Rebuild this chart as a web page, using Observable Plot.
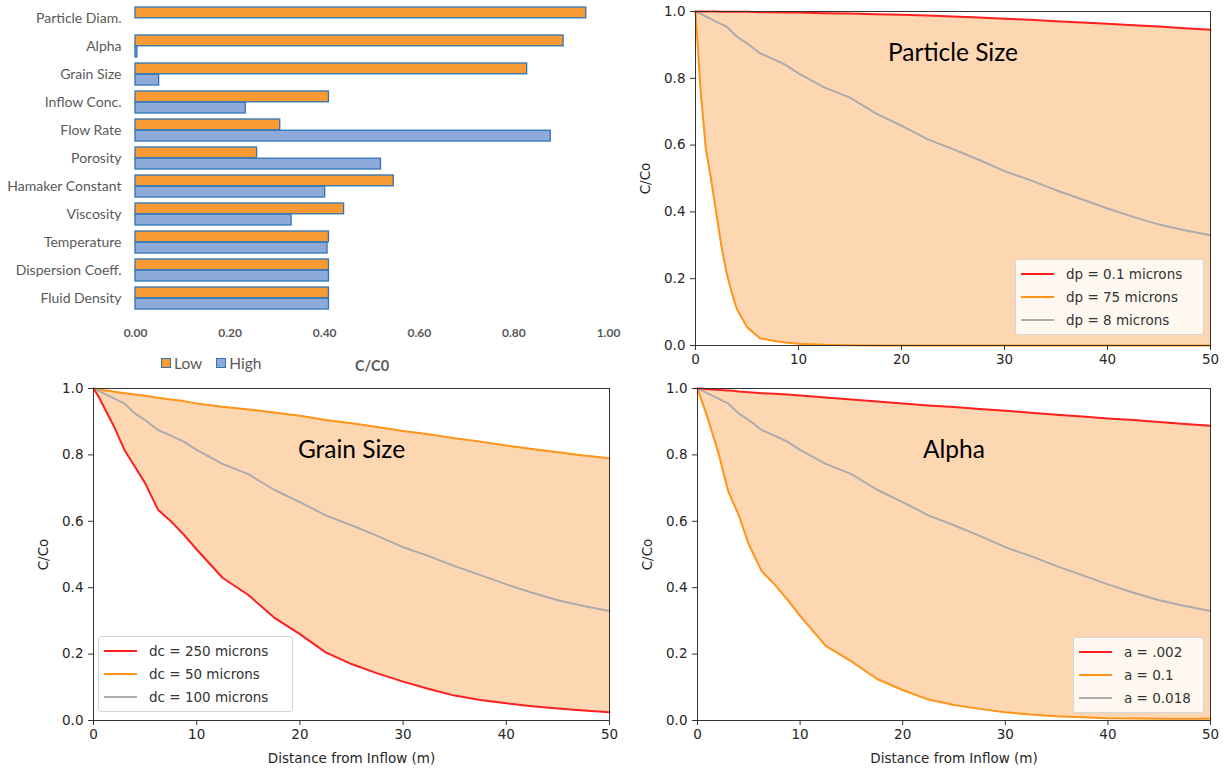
<!DOCTYPE html>
<html>
<head>
<meta charset="utf-8">
<script src="https://cdn.jsdelivr.net/npm/d3@7"></script>
<script src="https://cdn.jsdelivr.net/npm/@observablehq/plot@0.6"></script>
<style>
  html, body { margin: 0; padding: 0; background: #fff; }
  #root { position: relative; width: 1225px; height: 771px; overflow: hidden; }
  .panel { position: absolute; }
  .panel svg { overflow: visible; }
  .lg { position: absolute; box-sizing: border-box; background: rgba(255,255,255,0.82);
        border: 1px solid #d6d6d6; border-radius: 3px; font-family: "DejaVu Sans", sans-serif;
        font-size: 13.5px; color: #333; padding: 2px 6px 3px 5px; }
  .lg .row { display: flex; align-items: center; height: 23px; }
  .lg .ln { width: 33px; height: 2px; margin-right: 12px; }
  .barlg { position: absolute; font-family: Lato, sans-serif; font-size: 15.5px; color: #595959;
           display: flex; align-items: center; }
  .barlg .sw { width: 8px; height: 8px; border: 1.3px solid #2E75B6; margin: 0 3px 0 0; }
</style>
</head>
<body>
<div id="root"></div>
<script>
// ---------- Data: sensitivity bar chart ----------
const categories = ["Particle Diam.", "Alpha", "Grain Size", "Inflow Conc.", "Flow Rate", "Porosity",
  "Hamaker Constant", "Viscosity", "Temperature", "Dispersion Coeff.", "Fluid Density"];
const lowValues  = [0.953, 0.905, 0.828, 0.409, 0.306, 0.257, 0.546, 0.441, 0.409, 0.409, 0.409];
const highValues = [0.0,   0.004, 0.050, 0.233, 0.878, 0.519, 0.401, 0.330, 0.406, 0.409, 0.409];
const barTicks = [0, 0.2, 0.4, 0.6, 0.8, 1.0];
const seriesNames = ["Low", "High"];

// ---------- Data: breakthrough curves ----------
const distance = [0, 0.5, 1, 1.5, 2, 2.5, 3, 3.5, 4, 5, 6.25, 7.5, 8.75, 10, 12.5, 15, 17.5, 20,
  22.5, 25, 27.5, 30, 32.5, 35, 37.5, 40, 42.5, 45, 47.5, 50];
// base case (dp = 8 microns, dc = 100 microns, a = 0.018)
const baseCase = [1.0, 0.993, 0.985, 0.978, 0.97, 0.962, 0.955, 0.94, 0.925, 0.905, 0.875, 0.858, 0.84,
  0.815, 0.773, 0.742, 0.695, 0.658, 0.618, 0.588, 0.556, 0.522, 0.495, 0.465, 0.438, 0.41, 0.385, 0.362, 0.345, 0.33];
// Particle size
const dpSmall = [1, 1, 1, 1, 1, 0.999, 0.999, 0.999, 0.999, 0.999, 0.998, 0.998, 0.997, 0.997, 0.995,
  0.994, 0.992, 0.99, 0.988, 0.985, 0.982, 0.978, 0.975, 0.971, 0.967, 0.963, 0.959, 0.955, 0.95, 0.945];
const dpLarge = [1, 0.76, 0.59, 0.5, 0.4, 0.3, 0.22, 0.16, 0.11, 0.055, 0.022, 0.014, 0.009, 0.005, 0.002,
  0.001, 0, 0, 0, 0, 0, 0, 0, 0, 0, 0, 0, 0, 0, 0];
// Grain size
const dcLarge = [1, 0.975, 0.945, 0.915, 0.885, 0.85, 0.815, 0.79, 0.765, 0.715, 0.635, 0.6, 0.56, 0.515,
  0.43, 0.378, 0.31, 0.26, 0.205, 0.17, 0.142, 0.117, 0.095, 0.075, 0.062, 0.052, 0.043, 0.036, 0.03, 0.025];
const dcSmall = [1, 0.998, 0.995, 0.993, 0.99, 0.988, 0.986, 0.984, 0.982, 0.978, 0.972, 0.967, 0.962, 0.955,
  0.945, 0.937, 0.928, 0.918, 0.905, 0.895, 0.884, 0.872, 0.862, 0.85, 0.84, 0.828, 0.818, 0.808, 0.798, 0.79];
// Alpha
const alphaLow = [1, 0.999, 0.998, 0.997, 0.996, 0.995, 0.994, 0.993, 0.991, 0.989, 0.986, 0.984, 0.982, 0.979,
  0.973, 0.967, 0.961, 0.955, 0.949, 0.944, 0.938, 0.933, 0.927, 0.921, 0.916, 0.91, 0.905, 0.899, 0.893, 0.888];
const alphaHigh = [1, 0.955, 0.91, 0.86, 0.81, 0.75, 0.69, 0.655, 0.62, 0.53, 0.45, 0.41, 0.365, 0.315, 0.225,
  0.178, 0.125, 0.092, 0.063, 0.047, 0.035, 0.025, 0.018, 0.013, 0.01, 0.007, 0.006, 0.005, 0.005, 0.005];

const lineTicks = [0, 10, 20, 30, 40, 50];
const yTicks = [0, 0.2, 0.4, 0.6, 0.8, 1.0];

const RED = "#ff1f1f", ORANGE = "#ff9418", GRAY = "#acacac", FILL = "#fdd6b2";
const BAR_ORANGE = "#f99a33", BAR_BLUE = "#8eaadb", BAR_EDGE = "#2e75b6";

const root = document.getElementById("root");
function place(node, left, top) {
  const d = document.createElement("div");
  d.className = "panel"; d.style.left = left + "px"; d.style.top = top + "px";
  d.appendChild(node); root.appendChild(d); return d;
}

// ---------- Bar chart ----------
const barRows = categories.map((c, i) => ({cat: c, low: lowValues[i], high: highValues[i]}));
const bar = Plot.plot({
  width: 640, height: 380,
  marginLeft: 135, marginRight: 32, marginTop: 1, marginBottom: 65,
  style: {fontFamily: "Lato, sans-serif", background: "transparent", color: "#595959"},
  x: {domain: [0, 1]},
  y: {domain: categories, padding: 0.2},
  marks: [
    Plot.gridX(barTicks, {stroke: "#d9d9d9", strokeOpacity: 1, y1: 3, y2: 318}),
    Plot.axisX(barTicks, {tickSize: 0, tickPadding: 13, tickFormat: d3.format(".2f"), fontWeight: "bold",
      fontSize: 12, fill: "#595959", label: null}),
    Plot.axisY({tickSize: 0, tickPadding: 14, fontSize: 14, fill: "#595959", label: null}),
    Plot.barX(barRows, {x: "low", y: "cat", fill: BAR_ORANGE, stroke: BAR_EDGE, strokeWidth: 1.3, insetBottom: 11.2}),
    Plot.barX(barRows.filter(d => d.high > 0), {x: "high", y: "cat", fill: BAR_BLUE, stroke: BAR_EDGE, strokeWidth: 1.3, insetTop: 11.2}),
    Plot.text(["C/C0"], {frameAnchor: "bottom", lineAnchor: "middle", dy: 51, fontSize: 14.5, fontWeight: "bold", fill: "#595959"})
  ]
});
place(bar, 0, 0);

const blg = document.createElement("div");
blg.className = "barlg"; blg.style.left = "161px"; blg.style.top = "354px";
blg.innerHTML = seriesNames.map((s, i) =>
  `<span class="sw" style="background:${i === 0 ? BAR_ORANGE : BAR_BLUE}"></span><span style="margin-right:${i === 0 ? 14 : 0}px">${s}</span>`).join("");
root.appendChild(blg);

// ---------- Line panels ----------
function linePanel({w, h, ml, mr, mt, mb, title, titleDy, upper, lower, series, xlabel}) {
  const rows = distance.map((x, i) => {
    const r = {x, hi: upper[i], lo: lower[i]};
    series.forEach((s, k) => r["s" + k] = s.values[i]);
    return r;
  });
  const marks = [
    Plot.areaY(rows, {x: "x", y1: "lo", y2: "hi", fill: FILL}),
    ...series.map((s, k) => Plot.line(rows, {x: "x", y: "s" + k, stroke: s.color, strokeWidth: 2})),
    Plot.frame({stroke: "#333", strokeWidth: 1}),
    Plot.axisX(lineTicks, {tickSize: 5, tickPadding: 4, fontSize: 13.5, label: null, stroke: "#333"}),
    Plot.axisY(yTicks, {tickSize: 5, tickPadding: 5, fontSize: 13.5, tickFormat: d3.format(".1f"), label: null, stroke: "#333"}),
    Plot.text(["C/Co"], {frameAnchor: "left", textAnchor: "middle", lineAnchor: "middle", rotate: -90, dx: -50, fontSize: 13.5}),
    Plot.text([title], {frameAnchor: "top", lineAnchor: "middle", dy: titleDy, fontSize: 24.5, fontFamily: "Lato, sans-serif", fill: "#000"})
  ];
  if (xlabel) marks.push(Plot.text([xlabel], {frameAnchor: "bottom", lineAnchor: "middle", dy: 38, fontSize: 13.5}));
  return Plot.plot({
    width: w, height: h, marginLeft: ml, marginRight: mr, marginTop: mt, marginBottom: mb,
    style: {fontFamily: "DejaVu Sans, sans-serif", background: "transparent", color: "#262626"},
    x: {domain: [0, 50]}, y: {domain: [0, 1]},
    marks
  });
}

function legend(items, left, top, width) {
  const d = document.createElement("div");
  d.className = "lg"; d.style.left = left + "px"; d.style.top = top + "px"; d.style.width = width + "px";
  d.innerHTML = items.map(it => `<div class="row"><span class="ln" style="background:${it.color}"></span><span>${it.label}</span></div>`).join("");
  root.appendChild(d);
}

// Particle size
place(linePanel({w: 605, h: 370, ml: 75, mr: 15, mt: 11, mb: 25, title: "Particle Size", titleDy: 42,
  upper: dpSmall, lower: dpLarge,
  series: [{values: dpLarge, color: ORANGE}, {values: baseCase, color: GRAY}, {values: dpSmall, color: RED}]}), 620, 0);
legend([{label: "dp = 0.1 microns", color: RED}, {label: "dp = 75 microns", color: ORANGE}, {label: "dp = 8 microns", color: GRAY}], 1015, 259, 189);

// Grain size
place(linePanel({w: 620, h: 401, ml: 93, mr: 11, mt: 18, mb: 51, title: "Grain Size", titleDy: 62,
  upper: dcSmall, lower: dcLarge, xlabel: "Distance from Inflow (m)",
  series: [{values: dcSmall, color: ORANGE}, {values: baseCase, color: GRAY}, {values: dcLarge, color: RED}]}), 0, 370);
legend([{label: "dc = 250 microns", color: RED}, {label: "dc = 50 microns", color: ORANGE}, {label: "dc = 100 microns", color: GRAY}], 98, 636, 195);

// Alpha
place(linePanel({w: 605, h: 401, ml: 77, mr: 15, mt: 18, mb: 51, title: "Alpha", titleDy: 62,
  upper: alphaLow, lower: alphaHigh, xlabel: "Distance from Inflow (m)",
  series: [{values: alphaHigh, color: ORANGE}, {values: baseCase, color: GRAY}, {values: alphaLow, color: RED}]}), 620, 370);
legend([{label: "a = .002", color: RED}, {label: "a = 0.1", color: ORANGE}, {label: "a = 0.018", color: GRAY}], 1073, 637, 131);
</script>
</body>
</html>
